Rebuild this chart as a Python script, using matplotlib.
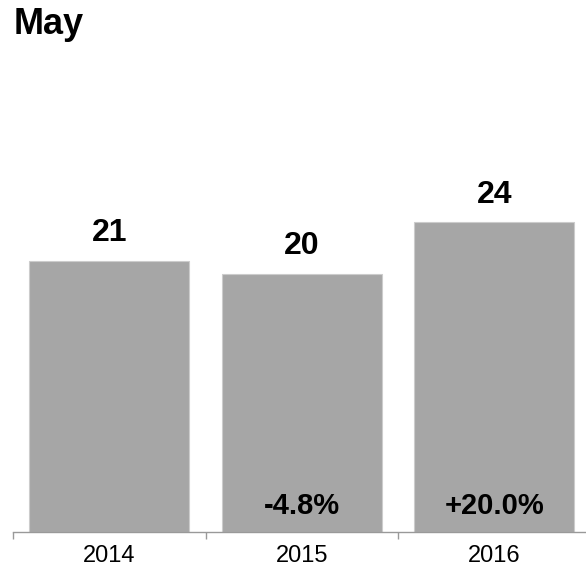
import matplotlib
matplotlib.use("Agg")
import matplotlib.pyplot as plt

years = ["2014", "2015", "2016"]
values = [21, 20, 24]
changes = [None, "-4.8%", "+20.0%"]

W, H, DPI = 586, 568, 100
fig = plt.figure(figsize=(W / DPI, H / DPI), dpi=DPI)

left_px, right_px = 13, 590.5
bottom_px, top_px = 532, 80
ax = fig.add_axes([left_px / W, (H - bottom_px) / H,
                   (right_px - left_px) / W, (bottom_px - top_px) / H])

x = list(range(len(years)))
ax.bar(x, values, width=0.83, color="#a6a6a6", edgecolor="#cccccc", linewidth=0.8)

ax.set_xlim(-0.5, 2.5)
ax.set_ylim(0, 35)

for xi, v in zip(x, values):
    ax.annotate(f"{v}", (xi, v), xytext=(0, 9), textcoords="offset points",
                ha="center", va="bottom", fontsize=23, fontweight="bold",
                family="Liberation Sans")

for xi, c in zip(x, changes):
    if c:
        ax.text(xi, 2.0, c, ha="center", va="center", fontsize=21,
                fontweight="bold", family="Liberation Sans")

for s in ["top", "right", "left"]:
    ax.spines[s].set_visible(False)
ax.spines["bottom"].set_color("#999999")
ax.spines["bottom"].set_linewidth(1)
ax.set_yticks([])

ax.set_xticks([-0.5, 0.5, 1.5, 2.5])
ax.set_xticklabels([])
ax.tick_params(axis="x", which="major", length=5, color="#999999", width=1)
ax.set_xticks(x, minor=True)
ax.set_xticklabels(years, minor=True, fontsize=17, family="Liberation Sans")
ax.tick_params(axis="x", which="minor", length=0, pad=9)

fig.text(14 / W, 1 - 24 / H, "May", ha="left", va="center", fontsize=26,
         fontweight="bold", family="Liberation Sans")

fig.savefig("out.png", dpi=DPI)
